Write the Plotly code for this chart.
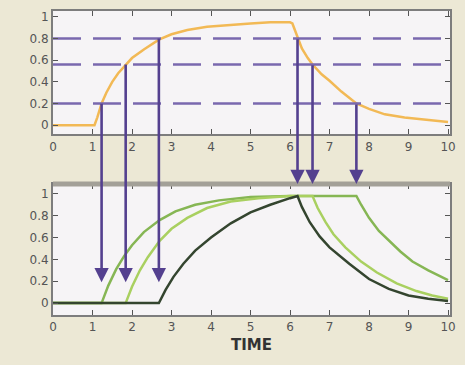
import plotly.graph_objects as go
from plotly.subplots import make_subplots

# ---- data ----
stim_t = [0, 1.05, 1.12, 1.23, 1.35, 1.5, 1.65, 1.84, 2.0, 2.3, 2.68, 3.0, 3.4, 3.9, 4.5, 5.0, 5.5, 6.0, 6.06,
          6.12, 6.19, 6.3, 6.45, 6.57, 6.8, 7.0, 7.3, 7.68, 8.0, 8.4, 8.9, 9.4, 10]
stim_v = [0, 0, 0.07, 0.2, 0.3, 0.4, 0.48, 0.56, 0.62, 0.7, 0.79, 0.84, 0.88, 0.91, 0.93, 0.94, 0.95, 0.95, 0.94,
          0.88, 0.8, 0.71, 0.62, 0.56, 0.47, 0.41, 0.31, 0.2, 0.15, 0.1, 0.07, 0.05, 0.03]

thresholds = [0.2, 0.56, 0.8]
rise_times = [1.23, 1.84, 2.68]
fall_times = [7.68, 6.57, 6.19]

a_t = [0, 1.23, 1.4, 1.6, 1.8, 2.0, 2.3, 2.7, 3.1, 3.6, 4.2, 5.0, 6.0, 7.68, 7.8, 8.0, 8.25, 8.5, 8.8, 9.1, 9.5, 10]
a_v = [0, 0, 0.16, 0.31, 0.43, 0.53, 0.65, 0.76, 0.84, 0.9, 0.94, 0.97, 0.98, 0.98, 0.9, 0.78, 0.66, 0.57, 0.47,
       0.38, 0.3, 0.21]
b_t = [0, 1.84, 2.0, 2.2, 2.4, 2.7, 3.0, 3.4, 3.9, 4.5, 5.2, 6.0, 6.57, 6.7, 6.9, 7.1, 7.4, 7.8, 8.2, 8.7, 9.2,
       9.6, 10]
b_v = [0, 0, 0.15, 0.3, 0.42, 0.57, 0.68, 0.78, 0.87, 0.93, 0.96, 0.98, 0.98, 0.87, 0.74, 0.63, 0.51, 0.38, 0.28,
       0.18, 0.11, 0.07, 0.04]
c_t = [0, 2.68, 2.85, 3.05, 3.3, 3.6, 4.0, 4.5, 5.0, 5.5, 6.0, 6.19, 6.3, 6.5, 6.75, 7.0, 7.5, 8.0, 8.5, 9.0, 9.5, 10]
c_v = [0, 0, 0.12, 0.24, 0.36, 0.48, 0.6, 0.73, 0.83, 0.9, 0.96, 0.98, 0.88, 0.74, 0.61, 0.51, 0.36, 0.22, 0.13,
       0.07, 0.04, 0.02]

x_ticks = list(range(0, 11))
y_ticks = [0, 0.2, 0.4, 0.6, 0.8, 1]
y_labels = ["0", "0.2", "0.4", "0.6", "0.8", "1"]
arrow_tip_low = 0.19

# ---- layout constants ----
W, H = 465, 365
ML, MR, MT, MB = 53, 14, 9, 50
top_dom = [0.595, 1.0]
bot_dom = [0.0, 0.431]
xr = [0, 10.05]
yr_top = [-0.083, 1.055]
yr_bot = [-0.109, 1.09]
plot_h = H - MT - MB

PAPER = "#ece8d5"
PLOT = "#f6f4f6"
PURPLE = "#54408f"
DASH = "#7a68ae"
ORANGE = "#f2b955"

fig = make_subplots(rows=2, cols=1, vertical_spacing=0.0)

fig.add_trace(go.Scatter(x=stim_t, y=stim_v, mode="lines", line=dict(color=ORANGE, width=2.5),
                         showlegend=False, hoverinfo="skip"), row=1, col=1)
for th in thresholds:
    fig.add_trace(go.Scatter(x=[xr[0], xr[1]], y=[th, th], mode="lines",
                             line=dict(color=DASH, width=2.5, dash="28px,12px"),
                             showlegend=False, hoverinfo="skip"), row=1, col=1)

fig.add_trace(go.Scatter(x=a_t, y=a_v, mode="lines", line=dict(color="#86b654", width=2.5),
                         showlegend=False, hoverinfo="skip"), row=2, col=1)
fig.add_trace(go.Scatter(x=b_t, y=b_v, mode="lines", line=dict(color="#a9d060", width=2.5),
                         showlegend=False, hoverinfo="skip"), row=2, col=1)
fig.add_trace(go.Scatter(x=c_t, y=c_v, mode="lines", line=dict(color="#34452f", width=2.5),
                         showlegend=False, hoverinfo="skip"), row=2, col=1)


def to_paper(v, rng, dom):
    return dom[0] + (v - rng[0]) / (rng[1] - rng[0]) * (dom[1] - dom[0])


def arrow(xv, y_from_paper, y_to_paper):
    length_px = (y_from_paper - y_to_paper) * plot_h
    fig.add_annotation(x=xv, y=y_to_paper, xref="x", yref="paper", ax=0, ay=-length_px,
                       axref="pixel", ayref="pixel", showarrow=True, arrowhead=2, arrowsize=1.1,
                       arrowwidth=2.6, arrowcolor=PURPLE, standoff=0, text="")


for th, t in zip(thresholds, rise_times):
    arrow(t, to_paper(th, yr_top, top_dom), to_paper(arrow_tip_low, yr_bot, bot_dom))
for th, t in zip(thresholds, fall_times):
    arrow(t, to_paper(th, yr_top, top_dom), bot_dom[1])

# thick grey top border of lower panel
fig.add_shape(type="line", xref="x2 domain", yref="paper", x0=0, x1=1, y0=bot_dom[1], y1=bot_dom[1],
              line=dict(color="#a3a098", width=5))

axis_common = dict(range=xr, tickvals=x_ticks, ticktext=[str(v) for v in x_ticks], ticks="inside", ticklen=5,
                   tickcolor="#555", showline=True, linecolor="#7d7d7d", linewidth=2, mirror="allticks",
                   showgrid=False, zeroline=False, tickfont=dict(family="DejaVu Sans", size=12, color="#555"))
yaxis_common = dict(tickvals=y_ticks, ticktext=y_labels, ticks="inside", ticklen=5, tickcolor="#555",
                    showline=True, linecolor="#7d7d7d", linewidth=2, mirror="allticks", showgrid=False,
                    zeroline=False, tickfont=dict(family="DejaVu Sans", size=12, color="#555"))

fig.update_layout(
    width=W, height=H, margin=dict(l=ML, r=MR, t=MT, b=MB),
    paper_bgcolor=PAPER, plot_bgcolor=PLOT, showlegend=False,
    xaxis=dict(axis_common, domain=[0, 1], anchor="y"),
    xaxis2=dict(axis_common, domain=[0, 1], anchor="y2",
                title=dict(text="<b>TIME</b>", font=dict(family="DejaVu Sans", size=15, color="#333"),
                           standoff=6)),
    yaxis=dict(yaxis_common, domain=top_dom, range=yr_top, anchor="x"),
    yaxis2=dict(yaxis_common, domain=bot_dom, range=yr_bot, anchor="x2"),
)

fig.write_html("out.html", config={"displayModeBar": False},
               post_script="document.body.style.margin='0';document.body.style.background='" + PAPER + "';")
